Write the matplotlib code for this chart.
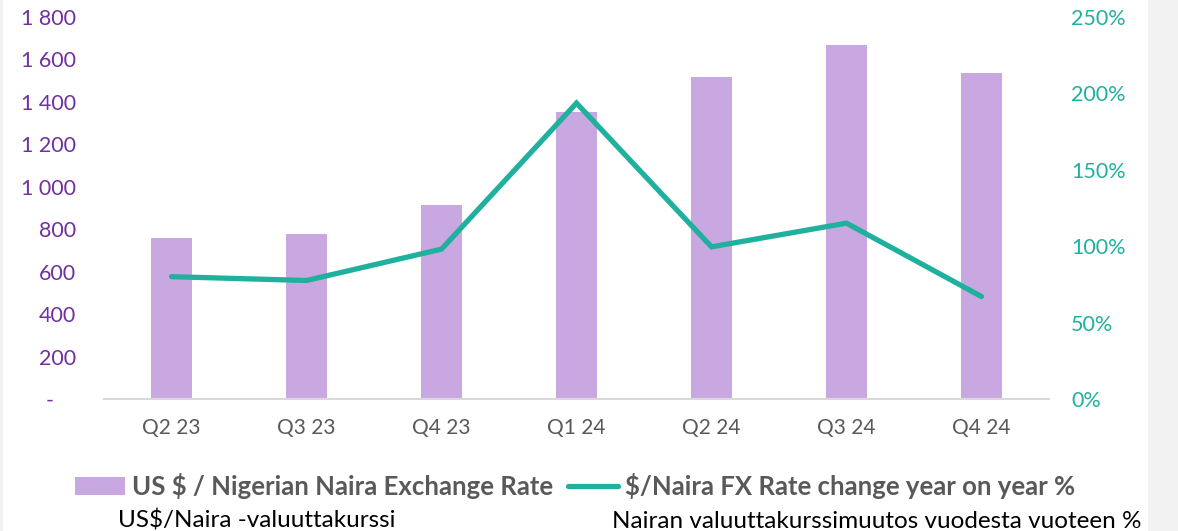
import matplotlib
matplotlib.use("Agg")
import matplotlib.pyplot as plt
from matplotlib.patches import Patch, Rectangle
from matplotlib.lines import Line2D
from matplotlib.ticker import FuncFormatter

plt.rcParams["font.family"] = ["Lato", "DejaVu Sans"]

# Data
quarters = ["Q2 23", "Q3 23", "Q4 23", "Q1 24", "Q2 24", "Q3 24", "Q4 24"]
fx_rate = [759, 778, 914, 1352, 1515, 1668, 1535]
yoy_change = [0.80, 0.775, 0.98, 1.935, 0.995, 1.15, 0.67]

bar_color = "#C9A8E2"
line_color = "#20B09E"
purple_text = "#7030A0"
gray_text = "#595959"

fig = plt.figure(figsize=(11.78, 5.31), dpi=100)
fig.patch.set_facecolor("white")
# light gray strip at the right edge, as in the source slide
fig.add_artist(Rectangle((1148 / 1178, 0), 30 / 1178, 1, transform=fig.transFigure,
                         facecolor="#F2F2F2", edgecolor="none", zorder=-1))
fig.add_artist(Rectangle((0, 0), 3 / 1178, 1, transform=fig.transFigure,
                         facecolor="#F2F2F2", edgecolor="none", zorder=-1))

ax = fig.add_axes([104 / 1178, 132 / 531, 945 / 1178, 382.3 / 531])
x = list(range(len(quarters)))

ax.bar(x, fx_rate, width=0.31, color=bar_color, zorder=2)
ax.set_xlim(-0.5, len(quarters) - 0.5)
ax.set_ylim(0, 1800)
ax.set_yticks(range(0, 1801, 200))


def thousands(v, pos):
    if v == 0:
        return "-    "
    return f"{int(v):,}".replace(",", " ")


ax.yaxis.set_major_formatter(FuncFormatter(thousands))
ax.set_xticks(x)
ax.set_xticklabels(quarters)
ax.tick_params(axis="y", colors=purple_text, labelsize=15.5, length=0, pad=20)
ax.tick_params(axis="x", colors=gray_text, labelsize=15, length=0, pad=14)
for s in ["top", "right", "left"]:
    ax.spines[s].set_visible(False)
ax.spines["bottom"].set_color("#D9D9D9")
ax.spines["bottom"].set_linewidth(1.5)

ax2 = ax.twinx()
ax2.plot(x, yoy_change, color=line_color, linewidth=3.8, solid_capstyle="round",
         solid_joinstyle="miter", zorder=3)
ax2.set_ylim(0, 2.5)
ax2.set_yticks([0, 0.5, 1.0, 1.5, 2.0, 2.5])
ax2.yaxis.set_major_formatter(FuncFormatter(lambda v, p: f"{v * 100:.0f}%"))
ax2.tick_params(axis="y", colors=line_color, labelsize=15.5, length=0, pad=16)
for s in ax2.spines.values():
    s.set_visible(False)

handles = [
    Patch(facecolor=bar_color, edgecolor="none"),
    Line2D([0], [0], color=line_color, linewidth=3.8, solid_capstyle="round"),
]
labels = ["US $ / Nigerian Naira Exchange Rate", "$/Naira FX Rate change year on year %"]
leg = fig.legend(handles, labels, loc="center left", bbox_to_anchor=(75 / 1178, 1 - 486 / 531),
                 ncol=2, frameon=False, handlelength=1.95, handleheight=0.65, handletextpad=0.25,
                 columnspacing=0.6, borderpad=0, borderaxespad=0,
                 prop={"size": 18.5, "weight": "bold"})
for t in leg.get_texts():
    t.set_color(gray_text)

fig.text(118 / 1178, 1 - 521 / 531, "US$/Naira -valuuttakurssi", fontsize=17.5,
         color="black", va="center", ha="left")
fig.text(612 / 1178, 1 - 522 / 531, "Nairan valuuttakurssimuutos vuodesta vuoteen %",
         fontsize=17.5, color="black", va="center", ha="left")

fig.savefig("out.png", dpi=100, facecolor=fig.get_facecolor())
